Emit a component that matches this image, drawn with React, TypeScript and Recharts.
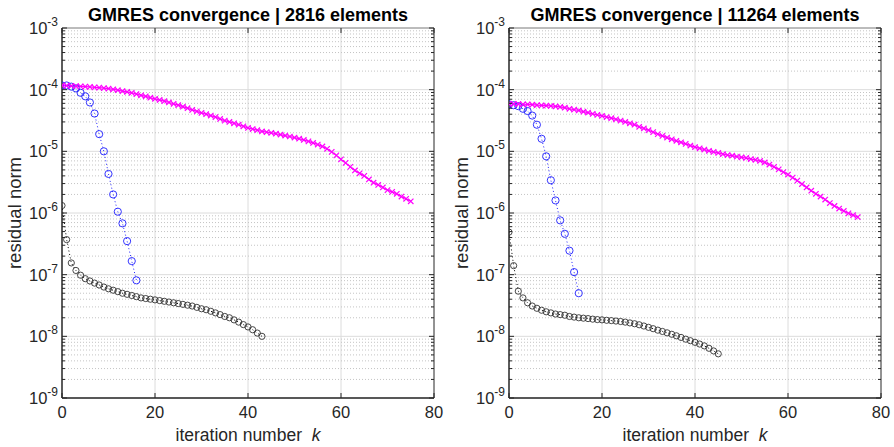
import React from 'react';
import { LineChart, Line, XAxis, YAxis, CartesianGrid, ReferenceLine } from 'recharts';

// residual norms, index = iteration k
const coarseMagenta = [
  1.17e-4, 1.16e-4, 1.15e-4, 1.14e-4, 1.13e-4, 1.12e-4, 1.11e-4, 1.09e-4, 1.08e-4, 1.06e-4,
  1.04e-4, 1.01e-4, 9.8e-5, 9.5e-5, 9.2e-5, 8.9e-5, 8.5e-5, 8.1e-5, 7.8e-5, 7.4e-5,
  7.1e-5, 6.8e-5, 6.5e-5, 6.2e-5, 5.9e-5, 5.6e-5, 5.3e-5, 5.0e-5, 4.7e-5, 4.45e-5,
  4.2e-5, 4.0e-5, 3.8e-5, 3.6e-5, 3.35e-5, 3.15e-5, 3.0e-5, 2.85e-5, 2.7e-5, 2.55e-5,
  2.4e-5, 2.3e-5, 2.2e-5, 2.1e-5, 2.05e-5, 2.0e-5, 1.93e-5, 1.87e-5, 1.8e-5, 1.74e-5,
  1.67e-5, 1.6e-5, 1.53e-5, 1.45e-5, 1.37e-5, 1.29e-5, 1.2e-5, 1.1e-5, 9.8e-6, 8.6e-6,
  7.4e-6, 6.5e-6, 5.6e-6, 4.9e-6, 4.4e-6, 4.0e-6, 3.5e-6, 3.1e-6, 2.85e-6, 2.6e-6,
  2.35e-6, 2.2e-6, 2.05e-6, 1.85e-6, 1.7e-6, 1.55e-6,
];
const coarseBlue = [
  1.17e-4, 1.17e-4, 1.12e-4, 1.05e-4, 8.9e-5, 7.8e-5, 6.2e-5, 4.1e-5, 1.9e-5, 1.0e-5,
  4.3e-6, 2.0e-6, 1.05e-6, 6.8e-7, 3.5e-7, 1.66e-7, 8.1e-8,
];
const coarseBlack = [
  1.32e-6, 3.7e-7, 1.55e-7, 1.17e-7, 9.8e-8, 8.6e-8, 7.9e-8, 7.3e-8, 6.8e-8, 6.3e-8,
  5.9e-8, 5.6e-8, 5.3e-8, 5.0e-8, 4.8e-8, 4.6e-8, 4.4e-8, 4.2e-8, 4.1e-8, 4.0e-8,
  3.9e-8, 3.8e-8, 3.7e-8, 3.6e-8, 3.5e-8, 3.4e-8, 3.3e-8, 3.2e-8, 3.1e-8, 2.95e-8,
  2.8e-8, 2.7e-8, 2.55e-8, 2.4e-8, 2.25e-8, 2.1e-8, 2.0e-8, 1.85e-8, 1.7e-8, 1.55e-8,
  1.42e-8, 1.28e-8, 1.13e-8, 1.0e-8,
];

const fineMagenta = [
  5.9e-5, 5.9e-5, 5.85e-5, 5.8e-5, 5.75e-5, 5.7e-5, 5.6e-5, 5.55e-5, 5.5e-5, 5.45e-5,
  5.35e-5, 5.25e-5, 5.1e-5, 4.9e-5, 4.75e-5, 4.6e-5, 4.4e-5, 4.25e-5, 4.05e-5, 3.9e-5,
  3.75e-5, 3.6e-5, 3.45e-5, 3.3e-5, 3.15e-5, 3.0e-5, 2.85e-5, 2.7e-5, 2.5e-5, 2.35e-5,
  2.2e-5, 2.05e-5, 1.9e-5, 1.78e-5, 1.67e-5, 1.57e-5, 1.48e-5, 1.4e-5, 1.32e-5, 1.24e-5,
  1.17e-5, 1.12e-5, 1.07e-5, 1.02e-5, 9.8e-6, 9.4e-6, 9.0e-6, 8.7e-6, 8.5e-6, 8.2e-6,
  8.0e-6, 7.8e-6, 7.5e-6, 7.3e-6, 7.0e-6, 6.6e-6, 6.1e-6, 5.6e-6, 5.1e-6, 4.6e-6,
  4.2e-6, 3.75e-6, 3.35e-6, 2.95e-6, 2.6e-6, 2.3e-6, 2.05e-6, 1.85e-6, 1.65e-6, 1.45e-6,
  1.3e-6, 1.18e-6, 1.08e-6, 9.9e-7, 9.2e-7, 8.6e-7,
];
const fineBlue = [
  5.8e-5, 5.6e-5, 5.4e-5, 4.9e-5, 4.5e-5, 3.8e-5, 2.7e-5, 1.6e-5, 8.3e-6, 3.4e-6,
  1.6e-6, 7.6e-7, 4.6e-7, 2.45e-7, 1.1e-7, 5.0e-8,
];
const fineBlack = [
  4.9e-7, 1.4e-7, 5.4e-8, 4.2e-8, 3.5e-8, 3.1e-8, 2.85e-8, 2.65e-8, 2.5e-8, 2.4e-8,
  2.3e-8, 2.25e-8, 2.2e-8, 2.1e-8, 2.05e-8, 2.0e-8, 1.97e-8, 1.94e-8, 1.9e-8, 1.87e-8,
  1.85e-8, 1.82e-8, 1.8e-8, 1.77e-8, 1.74e-8, 1.7e-8, 1.65e-8, 1.6e-8, 1.54e-8, 1.47e-8,
  1.4e-8, 1.33e-8, 1.26e-8, 1.2e-8, 1.14e-8, 1.08e-8, 1.02e-8, 9.6e-9, 9.0e-9, 8.5e-9,
  8.0e-9, 7.5e-9, 7.0e-9, 6.4e-9, 5.8e-9, 5.2e-9,
];

const X_TICKS = [0, 20, 40, 60, 80];
const DECADES = [1e-9, 1e-8, 1e-7, 1e-6, 1e-5, 1e-4, 1e-3];
const MANTISSAS = [2, 3, 4, 5, 6, 7, 8, 9];
const MINORS = DECADES.slice(0, -1).flatMap((d) => MANTISSAS.map((m) => m * d));

const PANEL_W = 447;
const PANEL_H = 447;
const MARGIN = { top: 28, right: 13, bottom: 19, left: 12 };
const Y_AXIS_W = 50;
const X_AXIS_H = 30;
const PLOT_W = PANEL_W - MARGIN.left - Y_AXIS_W - MARGIN.right;
const PLOT_H = PANEL_H - MARGIN.top - MARGIN.bottom - X_AXIS_H;

const FONT = '"Liberation Sans", Arial, Helvetica, sans-serif';
const AXIS = '#262626';
const MAGENTA = '#ff00ff';
const BLUE = '#1f1fff';
const BLACK = '#000000';

const toPoints = (vals: number[]) => vals.map((r, k) => ({ k, r }));

function YTick(props: any) {
  const { x, y, payload } = props;
  const v = payload.value as number;
  const exp = Math.round(Math.log10(v));
  const major = Math.abs(v - Math.pow(10, exp)) < 1e-6 * v;
  const len = major ? 5 : 3;
  return (
    <g>
      <line x1={x} y1={y} x2={x + len} y2={y} stroke={AXIS} strokeWidth={1} />
      <line x1={x + PLOT_W} y1={y} x2={x + PLOT_W - len} y2={y} stroke={AXIS} strokeWidth={1} />
      {major && (
        <text x={x - 4} y={y + 6} textAnchor="end" fill={AXIS} fontFamily={FONT} fontSize={16.5}>
          <tspan>10</tspan>
          <tspan dy={-8} fontSize={12}>{String(exp)}</tspan>
        </text>
      )}
    </g>
  );
}

function XTick(props: any) {
  const { x, y, payload } = props;
  return (
    <g>
      <line x1={x} y1={y} x2={x} y2={y - 5} stroke={AXIS} />
      <line x1={x} y1={y - PLOT_H} x2={x} y2={y - PLOT_H + 5} stroke={AXIS} />
      <text x={x} y={y + 20} textAnchor="middle" fill={AXIS} fontFamily={FONT} fontSize={16.5}>
        {payload.value}
      </text>
    </g>
  );
}

const crossDot = (color: string) => (p: any) => {
  const { cx, cy, index } = p;
  if (cx == null || cy == null) return <g key={`x${index}`} />;
  const s = 2.7;
  return (
    <path
      key={`x${index}`}
      d={`M${cx - s},${cy - s}L${cx + s},${cy + s}M${cx - s},${cy + s}L${cx + s},${cy - s}`}
      stroke={color}
      strokeWidth={1.2}
      fill="none"
    />
  );
};

const ringDot = (color: string, r: number) => (p: any) => {
  const { cx, cy, index } = p;
  if (cx == null || cy == null) return <g key={`o${index}`} />;
  return <circle key={`o${index}`} cx={cx} cy={cy} r={r} fill="none" stroke={color} strokeWidth={0.9} />;
};

interface PanelProps {
  title: string;
  magenta: number[];
  blue: number[];
  black: number[];
}

function Panel({ title, magenta, blue, black }: PanelProps) {
  const plotLeft = MARGIN.left + Y_AXIS_W;
  return (
    <div style={{ position: 'relative', width: PANEL_W, height: PANEL_H, fontFamily: FONT, color: AXIS }}>
      <LineChart width={PANEL_W} height={PANEL_H} margin={MARGIN}>
        <CartesianGrid horizontalValues={DECADES} verticalValues={[20, 40, 60]} stroke="#dcdcdc" />
        <CartesianGrid horizontalValues={MINORS} vertical={false} stroke="#c4c4c4" strokeDasharray="1 2" />
        <XAxis
          type="number"
          dataKey="k"
          domain={[0, 80]}
          ticks={X_TICKS}
          interval={0}
          height={X_AXIS_H}
          tickSize={0}
          tickMargin={0}
          tickLine={false}
          tick={<XTick />}
          axisLine={{ stroke: AXIS, strokeWidth: 1.5 }}
          allowDataOverflow
        />
        <YAxis
          type="number"
          scale="log"
          domain={[1e-9, 1e-3]}
          ticks={[...DECADES, ...MINORS]}
          interval={0}
          width={Y_AXIS_W}
          tickSize={0}
          tickMargin={0}
          tickLine={false}
          tick={<YTick />}
          axisLine={{ stroke: AXIS, strokeWidth: 1.5 }}
          allowDataOverflow
        />
        <ReferenceLine y={1e-3} stroke="#8a8a8a" strokeWidth={1} />
        <ReferenceLine x={80} stroke={AXIS} strokeWidth={1} />
        <Line
          data={toPoints(black)}
          dataKey="r"
          type="linear"
          stroke={BLACK}
          strokeWidth={1}
          strokeDasharray="1 2.5"
          dot={ringDot('#333333', 3.1)}
          activeDot={false}
          isAnimationActive={false}
        />
        <Line
          data={toPoints(blue)}
          dataKey="r"
          type="linear"
          stroke={BLUE}
          strokeWidth={1}
          strokeDasharray="1 2.5"
          dot={ringDot(BLUE, 3.6)}
          activeDot={false}
          isAnimationActive={false}
        />
        <Line
          data={toPoints(magenta)}
          dataKey="r"
          type="linear"
          stroke={MAGENTA}
          strokeWidth={1.2}
          dot={crossDot(MAGENTA)}
          activeDot={false}
          isAnimationActive={false}
        />
      </LineChart>
      <div
        style={{
          position: 'absolute',
          left: plotLeft - 20,
          top: 4,
          width: PLOT_W + 40,
          lineHeight: '22px',
          textAlign: 'center',
          fontWeight: 700,
          fontSize: 18,
          color: '#000',
        }}
      >
        {title}
      </div>
      <div
        style={{
          position: 'absolute',
          left: 15 - 100,
          top: MARGIN.top + PLOT_H / 2 - 12,
          width: 200,
          height: 24,
          lineHeight: '24px',
          textAlign: 'center',
          fontSize: 18.5,
          transform: 'rotate(-90deg)',
        }}
      >
        residual norm
      </div>
      <div
        style={{
          position: 'absolute',
          left: plotLeft,
          top: 424,
          width: PLOT_W,
          lineHeight: '22px',
          textAlign: 'center',
          fontSize: 17.5,
          whiteSpace: 'pre',
        }}
      >
        {'iteration number  '}
        <i>k</i>
      </div>
    </div>
  );
}

export default function App() {
  return (
    <div style={{ position: 'absolute', left: 0, top: 0, width: 894, height: 447, background: '#fff', display: 'flex' }}>
      <Panel title="GMRES convergence | 2816 elements" magenta={coarseMagenta} blue={coarseBlue} black={coarseBlack} />
      <Panel title="GMRES convergence | 11264 elements" magenta={fineMagenta} blue={fineBlue} black={fineBlack} />
    </div>
  );
}
